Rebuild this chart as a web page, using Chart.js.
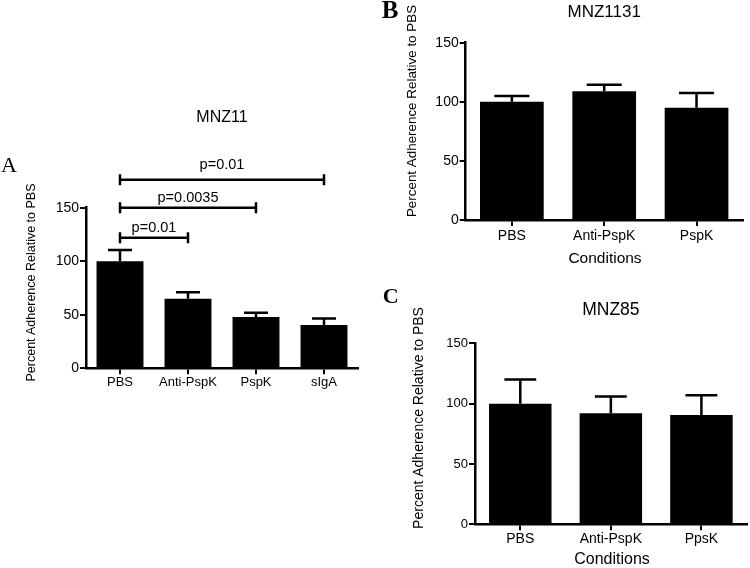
<!DOCTYPE html>
<html><head><meta charset="utf-8">
<script src="https://cdn.jsdelivr.net/npm/chart.js@4/dist/chart.umd.min.js"></script>
<style>
html,body{margin:0;padding:0;background:#fff;width:750px;height:568px;overflow:hidden;}
canvas{position:absolute;}
</style></head><body>
<canvas id="cA" width="375" height="300" style="left:0px;top:100px;width:375px;height:300px"></canvas>
<canvas id="cB" width="375" height="280" style="left:375px;top:0px;width:375px;height:280px"></canvas>
<canvas id="cC" width="375" height="288" style="left:375px;top:280px;width:375px;height:288px"></canvas>
<script>
// ---- data ----
const labelsA = ['PBS', 'Anti-PspK', 'PspK', 'sIgA'];
const meansA = [100, 65, 48, 40.5];
const errorsA = [10.5, 6, 4, 6];
const bracketFromA = [0, 0, 0];
const bracketToA = [1, 2, 3];
const bracketYA = [122, 150, 176];
const bracketTextA = ['p=0.01', 'p=0.0035', 'p=0.01'];

const labelsB = ['PBS', 'Anti-PspK', 'PspK'];
const meansB = [100, 109, 95];
const errorsB = [5, 5.5, 12.5];

const labelsC = ['PBS', 'Anti-PspK', 'PpsK'];
const meansC = [100, 92, 90.5];
const errorsC = [20, 14, 16.5];

const yTickValues = [0, 50, 100, 150];
const yTitle = 'Percent Adherence Relative to PBS';
const xTitle = 'Conditions';

const SANS = '"Liberation Sans", Arial, sans-serif';
const SERIF = '"Liberation Serif", "Times New Roman", serif';

function makePanel(id, cfg) {
  const deco = {
    id: 'deco',
    afterDraw(chart) {
      const ctx = chart.ctx;
      const xs = chart.scales.x, ys = chart.scales.y;
      const meta = chart.getDatasetMeta(0);
      ctx.save();
      ctx.strokeStyle = '#000';
      ctx.fillStyle = '#000';
      ctx.lineWidth = 2.5;
      ctx.lineCap = 'butt';
      // error bars (upper only)
      meta.data.forEach((bar, i) => {
        const top = ys.getPixelForValue(cfg.means[i] + cfg.errors[i]);
        const half = bar.width * cfg.capRatio / 2;
        ctx.beginPath();
        ctx.moveTo(bar.x, bar.y);
        ctx.lineTo(bar.x, top);
        ctx.moveTo(bar.x - half, top);
        ctx.lineTo(bar.x + half, top);
        ctx.stroke();
      });
      // significance brackets
      if (cfg.brackets) {
        const b = cfg.brackets;
        ctx.font = '14.5px ' + SANS;
        ctx.textAlign = 'center';
        ctx.textBaseline = 'alphabetic';
        for (let k = 0; k < b.from.length; k++) {
          const x1 = xs.getPixelForValue(b.from[k]);
          const x2 = xs.getPixelForValue(b.to[k]);
          const y = ys.getPixelForValue(b.y[k]);
          ctx.beginPath();
          ctx.moveTo(x1, y); ctx.lineTo(x2, y);
          ctx.moveTo(x1, y - 5.5); ctx.lineTo(x1, y + 5.5);
          ctx.moveTo(x2, y - 5.5); ctx.lineTo(x2, y + 5.5);
          ctx.stroke();
          ctx.fillText(b.text[k], (x1 + x2) / 2, y - (k === 2 ? 11 : 6));
        }
      }
      // chart title
      ctx.textAlign = 'center';
      ctx.textBaseline = 'middle';
      ctx.font = cfg.titleSize + 'px ' + SANS;
      ctx.fillText(cfg.title, (chart.chartArea.left + chart.chartArea.right) / 2, cfg.titleY);
      // x title
      if (cfg.xTitlePos) {
        ctx.font = cfg.xTitlePos[2] + 'px ' + SANS;
        ctx.fillText(xTitle, cfg.xTitlePos[0], cfg.xTitlePos[1]);
      }
      // y title
      ctx.save();
      ctx.translate(cfg.yTitlePos[0], cfg.yTitlePos[1]);
      ctx.rotate(-Math.PI / 2);
      ctx.font = cfg.yTitlePos[2] + 'px ' + SANS;
      ctx.fillText(yTitle, 0, 0);
      ctx.restore();
      // panel letter
      ctx.textAlign = 'left';
      ctx.textBaseline = 'alphabetic';
      ctx.font = cfg.letter[3] + ' ' + cfg.letter[4] + 'px ' + SERIF;
      ctx.fillText(cfg.letter[0], cfg.letter[1], cfg.letter[2]);
      ctx.restore();
    }
  };

  return new Chart(document.getElementById(id), {
    type: 'bar',
    data: {
      labels: cfg.labels,
      datasets: [{
        data: cfg.means,
        backgroundColor: '#000',
        borderWidth: 0,
        categoryPercentage: 0.69,
        barPercentage: 1.0
      }]
    },
    options: {
      responsive: false,
      animation: false,
      devicePixelRatio: 1,
      layout: { padding: cfg.padding },
      plugins: { legend: { display: false }, tooltip: { enabled: false }, title: { display: false } },
      scales: {
        x: {
          offset: true,
          grid: { offset: false, drawOnChartArea: false, drawTicks: true, tickLength: 6, color: '#000', lineWidth: 2 },
          border: { display: true, color: '#000', width: 2.5 },
          ticks: { color: '#000', font: { family: SANS, size: cfg.xFont }, padding: cfg.xPad, maxRotation: 0, autoSkip: false },
          afterFit(axis) { axis.height = cfg.xH; }
        },
        y: {
          min: 0, max: 150,
          afterBuildTicks(axis) { axis.ticks = yTickValues.map(v => ({ value: v })); },
          grid: { drawOnChartArea: false, drawTicks: true, tickLength: 6, color: '#000', lineWidth: 2 },
          border: { display: true, color: '#000', width: 2.5 },
          ticks: { color: '#000', font: { family: SANS, size: cfg.yFont }, padding: 1 },
          afterFit(axis) { axis.width = cfg.yW; }
        }
      }
    },
    plugins: [deco]
  });
}

makePanel('cA', {
  labels: labelsA, means: meansA, errors: errorsA, capRatio: 0.51,
  brackets: { from: bracketFromA, to: bracketToA, y: bracketYA, text: bracketTextA },
  padding: { left: 20, right: 17, top: 107.7, bottom: 1.7 },
  yW: 66, xH: 30, xFont: 13, yFont: 14, xPad: 0,
  title: 'MNZ11', titleSize: 16, titleY: 17.3,
  yTitlePos: [32, 182.5, 12.5],
  xTitlePos: null,
  letter: ['A', 1, 72, 'normal', 22]
});

makePanel('cB', {
  labels: labelsB, means: meansB, errors: errorsB, capRatio: 0.55,
  padding: { left: 20, right: 7.3, top: 42.7, bottom: 20 },
  yW: 70.7, xH: 40, xFont: 14, yFont: 14, xPad: 2,
  title: 'MNZ1131', titleSize: 17, titleY: 12.5,
  yTitlePos: [37, 111, 13.4],
  xTitlePos: [230, 258.3, 15.5],
  letter: ['B', 6.7, 18.3, 'bold', 25]
});

makePanel('cC', {
  labels: labelsC, means: meansC, errors: errorsC, capRatio: 0.51,
  padding: { left: 20, right: 3.3, top: 63.3, bottom: 3.7 },
  yW: 80, xH: 40, xFont: 14, yFont: 13, xPad: 0,
  title: 'MNZ85', titleSize: 17.5, titleY: 30,
  yTitlePos: [44, 138, 14],
  xTitlePos: [237, 279.3, 16],
  letter: ['C', 7.7, 22.7, 'bold', 22]
});
</script>
</body></html>
